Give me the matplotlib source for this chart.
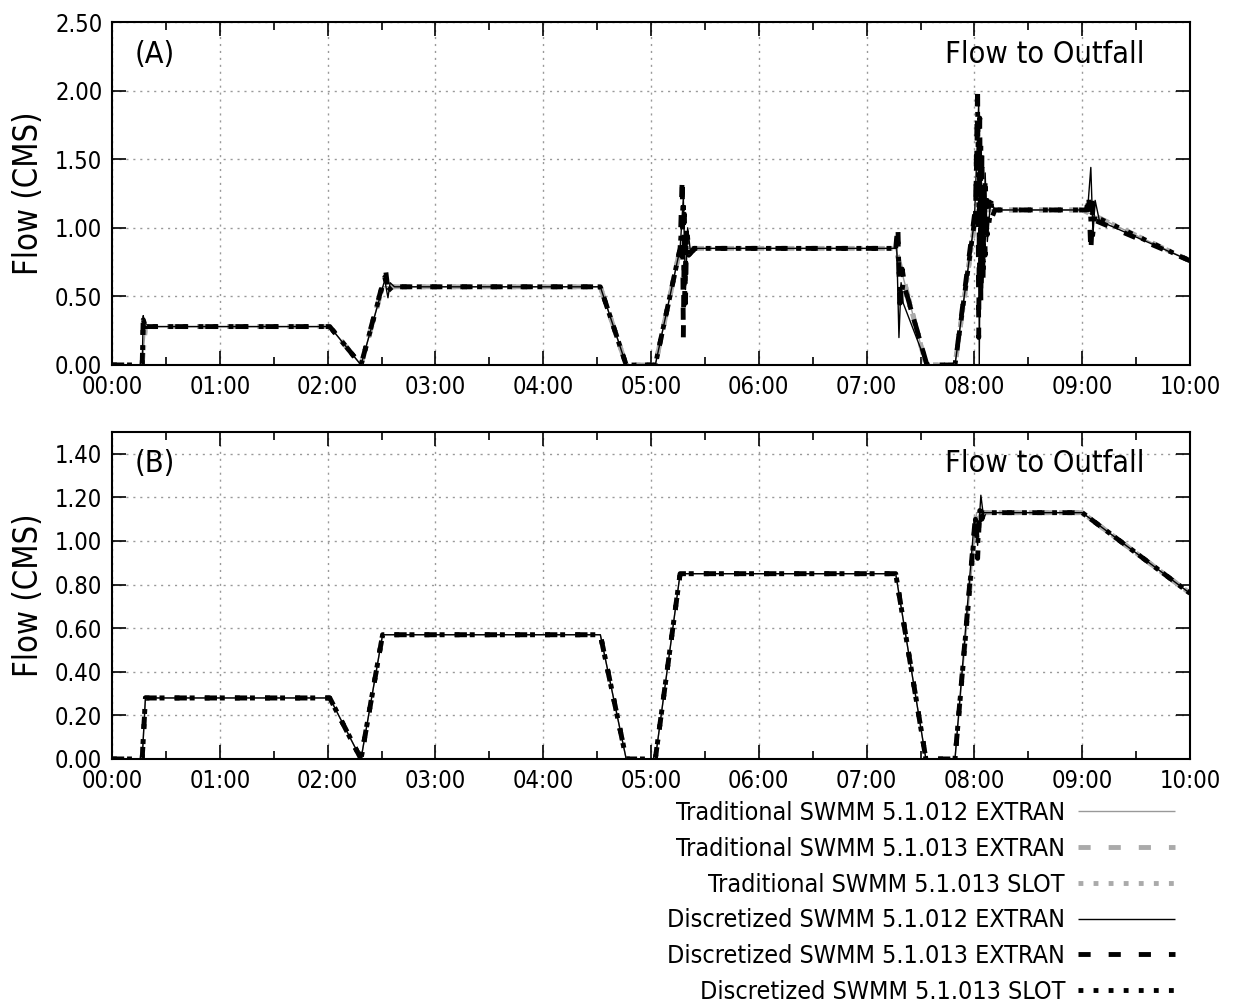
import matplotlib
matplotlib.use("Agg")
import matplotlib.pyplot as plt
from matplotlib.ticker import MultipleLocator

plt.rcParams['font.family'] = ['DejaVu Sans']
plt.rcParams['font.stretch'] = 'condensed'

# time in hours from start of simulation
hour_ticks = list(range(11))
hour_labels = ['%02d:00' % h for h in hour_ticks]

# traditional runs (same hydrograph in both panels)
t_trad = [0, 0.28, 0.31, 2.02, 2.31, 2.51, 4.53, 4.77, 5.04, 5.27, 7.27, 7.55, 7.82, 8.02, 9.00, 10.0]
q_trad = [0, 0.00, 0.28, 0.28, 0.00, 0.57, 0.57, 0.00, 0.00, 0.85, 0.85, 0.00, 0.00, 1.13, 1.13, 0.76]

# (A) discretized runs
t_a_d012 = [0, 0.28, 0.29, 0.30, 0.31, 2.02, 2.31, 2.53, 2.56, 2.58, 2.62, 4.53, 4.77, 5.04, 5.27,
            5.30, 5.32, 5.34, 5.37, 5.43, 7.28, 7.30, 7.32, 7.34, 7.56, 7.82, 8.00, 8.04, 8.045,
            8.06, 8.08, 8.10, 8.12, 8.15, 8.19, 9.05, 9.08, 9.10, 9.12, 9.16, 10.0]
q_a_d012 = [0, 0.00, 0.36, 0.30, 0.28, 0.28, 0.00, 0.62, 0.49, 0.60, 0.57, 0.57, 0.00, 0.00, 0.85,
            1.22, 0.55, 1.00, 0.80, 0.85, 0.85, 0.20, 0.60, 0.45, 0.00, 0.00, 1.05, 1.91, 0.00,
            1.60, 0.60, 1.40, 0.90, 1.20, 1.13, 1.13, 1.44, 0.95, 1.20, 1.05, 0.76]

t_a_d013 = [0, 0.28, 0.29, 0.31, 2.02, 2.31, 2.54, 2.56, 2.60, 4.53, 4.77, 5.04, 5.27, 5.29, 5.30,
            5.31, 5.32, 5.33, 5.35, 5.40, 7.27, 7.29, 7.31, 7.33, 7.36, 7.56, 7.82, 8.01, 8.03,
            8.04, 8.05, 8.06, 8.07, 8.08, 8.09, 8.10, 8.12, 8.15, 8.19, 9.04, 9.06, 9.08, 9.10,
            9.13, 10.0]
q_a_d013 = [0, 0.00, 0.36, 0.28, 0.28, 0.00, 0.68, 0.55, 0.57, 0.57, 0.00, 0.00, 0.85, 1.37, 0.20,
            1.10, 0.45, 0.95, 0.80, 0.85, 0.85, 1.02, 0.38, 0.70, 0.55, 0.00, 0.00, 1.15, 2.04,
            0.20, 1.80, 0.45, 1.55, 0.60, 1.30, 0.80, 1.20, 1.05, 1.13, 1.13, 1.25, 0.82, 1.18,
            1.05, 0.76]

t_a_slot = [0, 0.28, 0.29, 0.31, 2.02, 2.31, 2.53, 2.56, 2.60, 4.53, 4.77, 5.04, 5.27, 5.30, 5.31,
            5.33, 5.36, 5.40, 7.27, 7.29, 7.31, 7.34, 7.56, 7.82, 8.01, 8.03, 8.05, 8.06, 8.08,
            8.10, 8.12, 8.16, 8.19, 9.04, 9.07, 9.09, 9.12, 9.15, 10.0]
q_a_slot = [0, 0.00, 0.33, 0.28, 0.28, 0.00, 0.64, 0.54, 0.57, 0.57, 0.00, 0.00, 0.85, 1.20, 0.45,
            1.00, 0.78, 0.85, 0.85, 0.95, 0.45, 0.60, 0.00, 0.00, 1.10, 1.85, 0.55, 1.60, 0.75,
            1.35, 0.95, 1.18, 1.13, 1.13, 1.22, 0.90, 1.10, 1.07, 0.76]

# (B) discretized runs
t_b_d012 = [0, 0.28, 0.31, 2.02, 2.31, 2.51, 4.53, 4.77, 5.04, 5.27, 7.27, 7.55, 7.82, 8.00, 8.03, 8.06, 8.08, 9.00, 10.0]
q_b_d012 = [0, 0.00, 0.28, 0.28, 0.00, 0.57, 0.57, 0.00, 0.00, 0.85, 0.85, 0.00, 0.00, 1.10, 0.98, 1.21, 1.13, 1.13, 0.76]

t_b_d013 = [0, 0.28, 0.31, 2.02, 2.31, 2.51, 4.53, 4.77, 5.04, 5.27, 7.27, 7.55, 7.82, 8.01, 8.03, 8.05, 8.07, 8.09, 9.00, 10.0]
q_b_d013 = [0, 0.00, 0.28, 0.28, 0.00, 0.57, 0.57, 0.00, 0.00, 0.85, 0.85, 0.00, 0.00, 1.12, 0.92, 1.15, 1.10, 1.13, 1.13, 0.76]

t_b_slot = [0, 0.28, 0.31, 2.02, 2.31, 2.51, 4.53, 4.77, 5.04, 5.27, 7.27, 7.55, 7.82, 8.01, 8.03, 8.05, 8.08, 9.00, 10.0]
q_b_slot = [0, 0.00, 0.28, 0.28, 0.00, 0.57, 0.57, 0.00, 0.00, 0.85, 0.85, 0.00, 0.00, 1.10, 0.98, 1.14, 1.13, 1.13, 0.76]

labels = ['Traditional SWMM 5.1.012 EXTRAN',
          'Traditional SWMM 5.1.013 EXTRAN',
          'Traditional SWMM 5.1.013 SLOT',
          'Discretized SWMM 5.1.012 EXTRAN',
          'Discretized SWMM 5.1.013 EXTRAN',
          'Discretized SWMM 5.1.013 SLOT']

styles = [
    dict(color='#999999', lw=1.0, ls='-'),
    dict(color='#aaaaaa', lw=3.5, ls=(0, (2.5, 3.7))),
    dict(color='#aaaaaa', lw=3.5, ls=(0, (1, 2.1))),
    dict(color='black', lw=1.0, ls='-'),
    dict(color='black', lw=3.5, ls=(0, (2.5, 3.7))),
    dict(color='black', lw=3.5, ls=(0, (1, 2.1))),
]

W, H = 1236, 1008
fig = plt.figure(figsize=(W / 100, H / 100), dpi=100)
axA = fig.add_axes([112 / W, 1 - 365 / H, 1078 / W, 343 / H])
axB = fig.add_axes([112 / W, 1 - 759 / H, 1078 / W, 327 / H])

panels = [
    (axA, [t_a_d012, t_a_d013, t_a_slot], [q_a_d012, q_a_d013, q_a_slot], 2.5, 0.5, '(A)'),
    (axB, [t_b_d012, t_b_d013, t_b_slot], [q_b_d012, q_b_d013, q_b_slot], 1.5, 0.2, '(B)'),
]

for ax, t_disc, q_disc, ymax, ystep, tag in panels:
    lines = []
    for st in styles[:3]:
        ln, = ax.plot(t_trad, q_trad, solid_capstyle='butt', dash_capstyle='butt', **st)
        lines.append(ln)
    for t, q, st in zip(t_disc, q_disc, styles[3:]):
        ln, = ax.plot(t, q, solid_capstyle='butt', dash_capstyle='butt', **st)
        lines.append(ln)

    ax.set_xlim(0, 10)
    ax.set_ylim(0, ymax)
    ax.set_xticks(hour_ticks)
    ax.set_xticklabels(hour_labels)
    ax.xaxis.set_minor_locator(MultipleLocator(0.5))
    yt = [i * ystep for i in range(int(round(ymax / ystep)) + (1 if ymax == 2.5 else 0))]
    ax.set_yticks(yt)
    ax.set_yticklabels(['%.2f' % v for v in yt])
    ax.tick_params(which='both', direction='in', top=True, right=True, labelsize=17, pad=7)
    ax.tick_params(which='major', length=10, width=1.2)
    ax.tick_params(which='minor', length=6, width=1.2)
    for sp in ax.spines.values():
        sp.set_linewidth(1.5)
    ax.grid(True, which='major', color='#999999', ls=(0, (1.5, 3.5)), lw=1.0)
    ax.set_axisbelow(True)
    ax.set_ylabel('Flow (CMS)', fontsize=23.5, labelpad=7)
    ax.text(0.021, 0.904, tag, transform=ax.transAxes, fontsize=22, ha='left', va='center')
    ax.text(0.958, 0.904, 'Flow to Outfall', transform=ax.transAxes, fontsize=22,
            ha='right', va='center')

fig.legend(lines, labels, loc='upper right', bbox_to_anchor=(1175 / W, 1 - 801 / H),
           frameon=False, markerfirst=False, fontsize=18, handlelength=3.9,
           handletextpad=0.5, labelspacing=0.47, borderpad=0, borderaxespad=0)

fig.savefig('out.png', dpi=100)
